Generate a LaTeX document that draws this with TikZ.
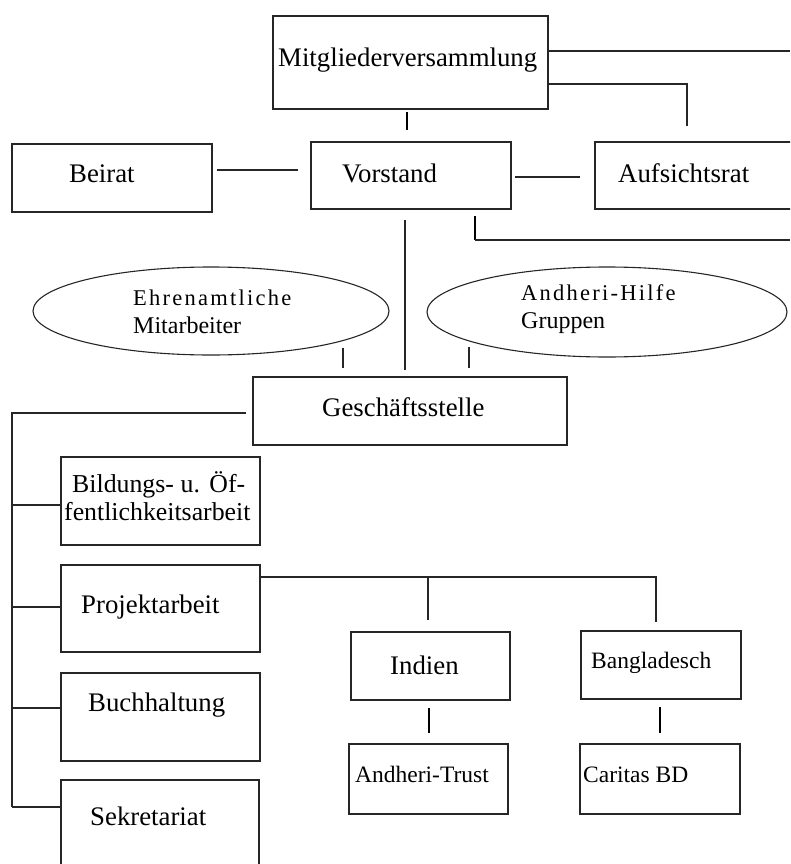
\documentclass[tikz,border=0pt]{standalone}
\usepackage{fontspec}
\setmainfont{Liberation Serif}
\newfontfamily\spacedfont[LetterSpace=10]{Liberation Serif}
\usetikzlibrary{shapes.geometric}
\tikzset{
  box/.style={draw=black!85, line width=1.1pt, inner sep=0pt, outer sep=0pt},
  oval/.style={draw=black!85, line width=1.1pt, ellipse, inner sep=0pt, outer sep=0pt},
  lbl/.style={anchor=base west, inner sep=0pt, font=\fontsize{26.8}{30}\selectfont},
  blbl/.style={anchor=base west, inner sep=0pt, font=\fontsize{25.8}{30}\selectfont},
  slbl/.style={anchor=base west, inner sep=0pt, font=\fontsize{23.5}{28}\selectfont},
  elbl/.style={anchor=base west, inner sep=0pt, font=\spacedfont\fontsize{22.5}{26}\selectfont},
  plbl/.style={anchor=base west, inner sep=0pt, font=\fontsize{24}{28}\selectfont},
  conn/.style={draw=black!85, line width=1.1pt},
  bar/.style={draw=black, line width=2.4pt},
}
\begin{document}
\begin{tikzpicture}[x=1pt,y=-1pt]
\useasboundingbox (0,0) rectangle (790,864);
\clip (0,0) rectangle (790,864);
% boxes
\node[box, minimum width=275, minimum height=93] (mv) at (410.5,62.5) {};
\node[box, minimum width=200, minimum height=67] (vor) at (411,175.5) {};
\node[box, minimum width=235, minimum height=67] (auf) at (712.5,175.5) {};
\node[box, minimum width=200, minimum height=68] (bei) at (112,178) {};
\node[box, minimum width=314, minimum height=68] (ges) at (410,411) {};
\node[oval, minimum width=356, minimum height=88] (ehr) at (211,311) {};
\node[oval, minimum width=360, minimum height=90] (ahg) at (607,312) {};
\node[box, minimum width=199, minimum height=88] (bil) at (160.5,501) {};
\node[box, minimum width=199, minimum height=87] (pro) at (160.5,608.5) {};
\node[box, minimum width=199, minimum height=88] (buc) at (160.5,717) {};
\node[box, minimum width=198, minimum height=120] (sek) at (160,840) {};
\node[box, minimum width=159, minimum height=68] (ind) at (430.5,666) {};
\node[box, minimum width=160, minimum height=68] (ban) at (661,665) {};
\node[box, minimum width=159, minimum height=70] (atr) at (428.5,779) {};
\node[box, minimum width=160, minimum height=70] (car) at (660,779) {};
% texts
\node[lbl] (mvt) at (278,66.5) {Mitgliederversammlung};
\node[lbl] (vort) at (342,182) {Vorstand};
\node[lbl] (auft) at (618,182) {Aufsichtsrat};
\node[lbl] (beit) at (69,182) {Beirat};
\node[elbl] (ehrt1) at (133,305) {Ehrenamtliche};
\node[plbl] (ehrt2) at (133,333) {Mitarbeiter};
\node[elbl] (ahgt1) at (521,300) {Andheri-Hilfe};
\node[plbl] (ahgt2) at (521,328) {Gruppen};
\node[lbl] (gest) at (322,416) {Geschäftsstelle};
\node[blbl] (bilt1) at (72,492) {\makebox[173pt][s]{Bildungs- u. Öf-}};
\node[blbl] (bilt2) at (64,520) {fentlichkeitsarbeit};
\node[lbl] (prot) at (81,613) {Projektarbeit};
\node[lbl] (buct) at (88,711) {Buchhaltung};
\node[lbl] (sekt) at (90,825) {Sekretariat};
\node[lbl] (indt) at (390,674) {Indien};
\node[slbl] (bant) at (591,668) {Bangladesch};
\node[slbl] (atrt) at (355,782) {Andheri-Trust};
\node[slbl] (cart) at (583,782) {Caritas BD};
% free ends
\coordinate (r1) at (790,51);
\coordinate (r2) at (687,84);
\coordinate (r2d) at (687,126);
\coordinate (r3) at (790,240);
\coordinate (t3) at (475,216);
\coordinate (c3) at (475,240);
\coordinate (lg) at (12,413);
\coordinate (lb) at (12,807);
\coordinate (l1) at (12,505);
\coordinate (l2) at (12,607);
\coordinate (l3) at (12,708);
\coordinate (pj) at (656,577);
\coordinate (pi) at (428,577);
% connectors
\draw[conn] (mv.east |- r1) -- (r1);
\draw[conn] (mv.east |- r2) -- (r2) -- (r2d);
\draw[bar] ([shift={(-3.5,3)}]mv.south) -- ([shift={(-3.5,21)}]mv.south);
\draw[conn] ([shift={(5,-8)}]bei.east) -- ([shift={(-13,-5.5)}]vor.west);
\draw[conn] ([shift={(4,1.5)}]vor.east) -- ([shift={(-15,1.5)}]auf.west);
\draw[conn] ([shift={(-6,11)}]vor.south) -- ([shift={(-5,-7)}]ges.north);
\draw[bar] (t3) -- (c3);
\draw[conn] (c3) -- (r3);
\draw[conn] ([shift={(132,-7)}]ehr.south) -- ([shift={(-67,-9)}]ges.north);
\draw[conn] ([shift={(-138,-10)}]ahg.south) -- ([shift={(59,-9)}]ges.north);
\draw[conn] ([xshift=-7]ges.west |- lg) -- (lg) -- (lb);
\draw[conn] (l1) -- (bil.west |- l1);
\draw[conn] (l2) -- (pro.west |- l2);
\draw[conn] (l3) -- (buc.west |- l3);
\draw[conn, line width=1.8pt] (lb) -- (sek.west |- lb);
\draw[conn] (pro.east |- pj) -- (pj) -- ([shift={(-5,-9)}]ban.north);
\draw[conn] (pi) -- ([shift={(-2.5,-12)}]ind.north);
\draw[bar] ([shift={(-1.5,8)}]ind.south) -- ([shift={(-1.5,-11)}]atr.north -| ind.south);
\draw[bar] ([shift={(-1,8)}]ban.south) -- ([shift={(-1,-11)}]car.north -| ban.south);
\end{tikzpicture}
\end{document}
